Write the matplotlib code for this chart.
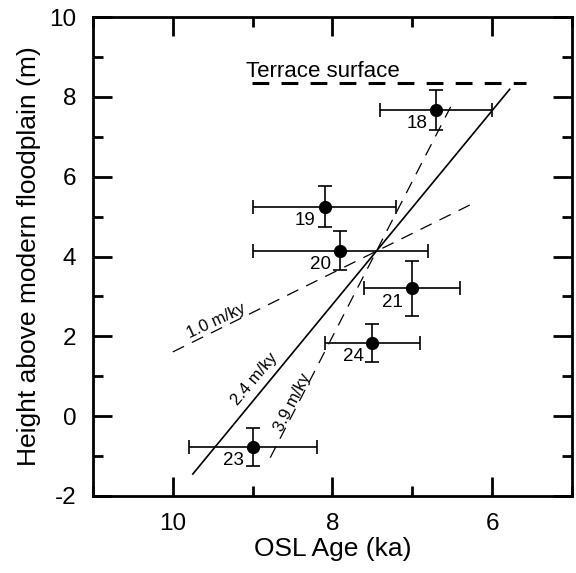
import matplotlib
matplotlib.use("Agg")
import matplotlib.pyplot as plt
from matplotlib.ticker import MultipleLocator

plt.rcParams["font.family"] = ["Liberation Sans", "DejaVu Sans"]
plt.rcParams["axes.unicode_minus"] = False

# ── OSL samples ──────────────────────────────────────────────────────────────
sample_ids = ["18", "19", "20", "21", "24", "23"]
osl_age    = [6.7, 8.1, 7.9, 7.0, 7.5, 9.0]
age_err    = [0.7, 0.9, 1.1, 0.6, 0.6, 0.8]
height     = [7.67, 5.25, 4.15, 3.20, 1.84, -0.77]
height_err = [0.49, 0.51, 0.49, 0.69, 0.48, 0.48]

# ── incision-rate lines (end points) ─────────────────────────────────────────
rate_24_age = [9.75, 5.78]
rate_24_h   = [-1.45, 8.19]
rate_10_age = [10.0, 6.28]
rate_10_h   = [1.61, 5.29]
rate_39_age = [8.78, 6.52]
rate_39_h   = [-1.04, 7.75]
terrace_age = [9.01, 5.57]
terrace_h   = [8.35, 8.35]

fig = plt.figure(figsize=(5.76, 5.73), dpi=100, facecolor="white")
ax = fig.add_axes([0.1615, 0.1344, 0.8315, 0.8359])

ax.plot(terrace_age, terrace_h, color="black", lw=2.2,
        linestyle=(0, (5.5, 4)))
ax.text(9.08, 8.49, "Terrace surface", fontsize=16, ha="left",
        va="baseline")

ax.plot(rate_24_age, rate_24_h, color="black", lw=1.2)
ax.plot(rate_10_age, rate_10_h, color="black", lw=0.9,
        linestyle=(0, (10, 7)))
ax.plot(rate_39_age, rate_39_h, color="black", lw=0.9,
        linestyle=(0, (10, 7)))

ax.text(9.46, 2.39, "1.0 m/ky", fontsize=12, rotation=25,
        ha="center", va="center", rotation_mode="anchor")
ax.text(8.98, 0.93, "2.4 m/ky", fontsize=12, rotation=50,
        ha="center", va="center", rotation_mode="anchor")
ax.text(8.50, 0.34, "3.9 m/ky", fontsize=12, rotation=63,
        ha="center", va="center", rotation_mode="anchor")

ax.errorbar(osl_age, height, xerr=age_err, yerr=height_err, fmt="o",
            color="black", ms=8.5, elinewidth=1.2, capsize=5,
            capthick=1.2, zorder=4)

for sid, a, h in zip(sample_ids, osl_age, height):
    ax.annotate(sid, (a, h), xytext=(-6.5, -10), textcoords="offset points",
                ha="right", va="center", fontsize=13.5)

ax.set_xlim(11, 5)
ax.set_ylim(-2, 10)
ax.xaxis.set_major_locator(MultipleLocator(2))
ax.xaxis.set_minor_locator(MultipleLocator(1))
ax.yaxis.set_major_locator(MultipleLocator(2))
ax.yaxis.set_minor_locator(MultipleLocator(1))
ax.tick_params(which="both", direction="in", top=True, right=True,
               width=2, labelsize=17.5)
ax.tick_params(which="major", length=14, pad=12)
ax.tick_params(which="minor", length=7)
for s in ax.spines.values():
    s.set_linewidth(2)

ax.set_xlabel("OSL Age (ka)", fontsize=19, labelpad=2)
ax.set_ylabel("Height above modern floodplain (m)", fontsize=19, labelpad=6)

fig.savefig("out.png", dpi=100)
